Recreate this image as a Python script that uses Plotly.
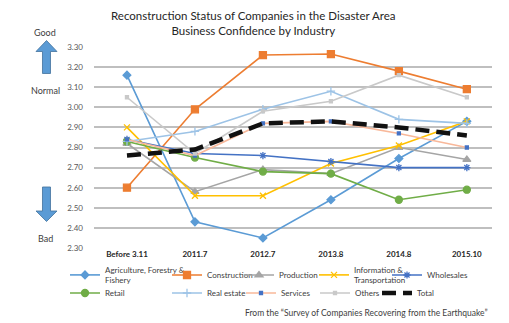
import plotly.graph_objects as go

periods = ["Before 3.11", "2011.7", "2012.7", "2013.8", "2014.8", "2015.10"]

agriculture = [3.16, 2.43, 2.35, 2.54, 2.745, 2.93]
construction = [2.60, 2.99, 3.26, 3.265, 3.18, 3.09]
production = [2.82, 2.58, 2.69, 2.67, 2.80, 2.74]
information = [2.90, 2.56, 2.56, 2.72, 2.81, 2.93]
wholesales = [2.84, 2.77, 2.76, 2.73, 2.70, 2.70]
retail = [2.83, 2.75, 2.68, 2.67, 2.54, 2.59]
real_estate = [2.83, 2.88, 2.99, 3.08, 2.94, 2.92]
services = [2.84, 2.76, 2.92, 2.93, 2.87, 2.80]
others = [3.05, 2.77, 2.98, 3.03, 3.16, 3.05]
total = [2.76, 2.79, 2.92, 2.93, 2.90, 2.86]

y_ticks = [2.30, 2.40, 2.50, 2.60, 2.70, 2.80, 2.90, 3.00, 3.10, 3.20, 3.30]

W, H = 509, 323
ML, MR, MT, MB = 94, 17, 47, 75
PW, PH = W - ML - MR, H - MT - MB

FONT = "Lato"


def px(x):
    return (x - ML) / PW


def py(y):
    return (H - MB - y) / PH


# series: name, values, colour, marker symbol, marker size, legend slot
series = [
    ("Agriculture, Forestry &<br>Fishery", agriculture, "#5B9BD5", "diamond", 6, "legend"),
    ("Construction", construction, "#ED7D31", "square", 7, "legend2"),
    ("Production", production, "#A5A5A5", "triangle-up", 7, "legend3"),
    ("Information &<br>Transportation", information, "#FFC000", "x-thin-open", 6, "legend4"),
    ("Wholesales", wholesales, "#4472C4", "asterisk-open", 6, "legend5"),
    ("Retail", retail, "#70AD47", "circle", 7, "legend6"),
    ("Real estate", real_estate, "#9DC3E6", "cross-thin-open", 6, "legend7"),
    ("Services", services, "#F8B89A", "square", 3, "legend8"),
    ("Others", others, "#C9C9C9", "square", 3, "legend9"),
]

fig = go.Figure()
idx = list(range(len(periods)))
for name, vals, col, sym, size, leg in series:
    mcol = col
    if name == "Services":
        mcol = "#4472C4"
    fig.add_trace(go.Scatter(
        x=idx, y=vals, name=name, mode="lines+markers",
        line=dict(color=col, width=1.6),
        marker=dict(symbol=sym, size=size, color=mcol,
                    line=dict(color=mcol, width=1.3)),
        legend=leg,
    ))

fig.add_trace(go.Scatter(
    x=idx, y=total, name="Total", mode="lines",
    line=dict(color="#111111", width=4.5, dash="14px,7px"),
    legend="legend10",
))

# legend slots (left edge in px, centre y in px)
slots = {
    "legend": (65, 275), "legend2": (167, 275), "legend3": (239, 275),
    "legend4": (314, 275), "legend5": (387, 275),
    "legend6": (65, 293), "legend7": (167, 293), "legend8": (241, 293),
    "legend9": (315, 293), "legend10": (377, 293),
}
legend_layout = {}
for key, (lx, ly) in slots.items():
    legend_layout[key] = dict(
        x=px(lx), y=py(ly), xanchor="left", yanchor="middle",
        xref="paper", yref="paper", bgcolor="rgba(0,0,0,0)",
        font=dict(family=FONT, size=8, color="#404040"),
        itemwidth=30, tracegroupgap=0,
    )

fig.update_layout(
    width=W, height=H,
    margin=dict(l=ML, r=MR, t=MT, b=MB),
    paper_bgcolor="white", plot_bgcolor="white",
    showlegend=True,
    **legend_layout,
    xaxis=dict(
        range=[-0.485, 5.37], tickmode="array", tickvals=idx,
        ticktext=["<b>%s</b>" % p for p in periods],
        showgrid=False, zeroline=False, showline=False, ticks="",
        tickfont=dict(family=FONT, size=8, color="#262626"),
    ),
    yaxis=dict(
        range=[2.30, 3.30], tickmode="array", tickvals=y_ticks,
        ticktext=["%.2f" % v for v in y_ticks],
        showgrid=True, gridcolor="#BFBFBF", gridwidth=1.5,
        zeroline=False, showline=False, ticks="", ticklabelstandoff=10,
        tickfont=dict(family=FONT, size=8, color="#595959"),
    ),
)

# title
fig.add_annotation(
    text="Reconstruction Status of Companies in the Disaster Area<br>Business Confidence by Industry",
    x=px(253), y=py(23.5), xref="paper", yref="paper", showarrow=False,
    xanchor="center", yanchor="middle", align="center",
    font=dict(family=FONT, size=11.5, color="#262626"),
)

# Good / Normal / Bad labels
for txt, yy in [("Good", 32), ("Normal", 90), ("Bad", 238)]:
    fig.add_annotation(
        text=txt, x=px(45), y=py(yy), xref="paper", yref="paper",
        showarrow=False, xanchor="center", yanchor="middle",
        font=dict(family=FONT, size=9, color="#404040"),
    )


def arrow_path(points):
    pts = ["%s%.4f,%.4f" % ("M" if i == 0 else "L", px(a), py(b))
           for i, (a, b) in enumerate(points)]
    return " ".join(pts) + " Z"


up = [(46.5, 40.5), (57, 51.5), (50.5, 51.5), (50.5, 73.5), (42.5, 73.5),
      (42.5, 51.5), (36, 51.5)]
down = [(46.5, 221.5), (57, 211), (50.5, 211), (50.5, 187), (42.5, 187),
        (42.5, 211), (36, 211)]
for pts in (up, down):
    fig.add_shape(type="path", path=arrow_path(pts), xref="paper", yref="paper",
                  fillcolor="#5B9BD5", line=dict(color="#41719C", width=0.8))

fig.add_annotation(
    text="From the \u201cSurvey of Companies Recovering from the Earthquake\u201d",
    x=px(490), y=py(313), xref="paper", yref="paper", showarrow=False,
    xanchor="right", yanchor="middle",
    font=dict(family=FONT, size=8.5, color="#404040"),
)

fig.write_html("out.html")
